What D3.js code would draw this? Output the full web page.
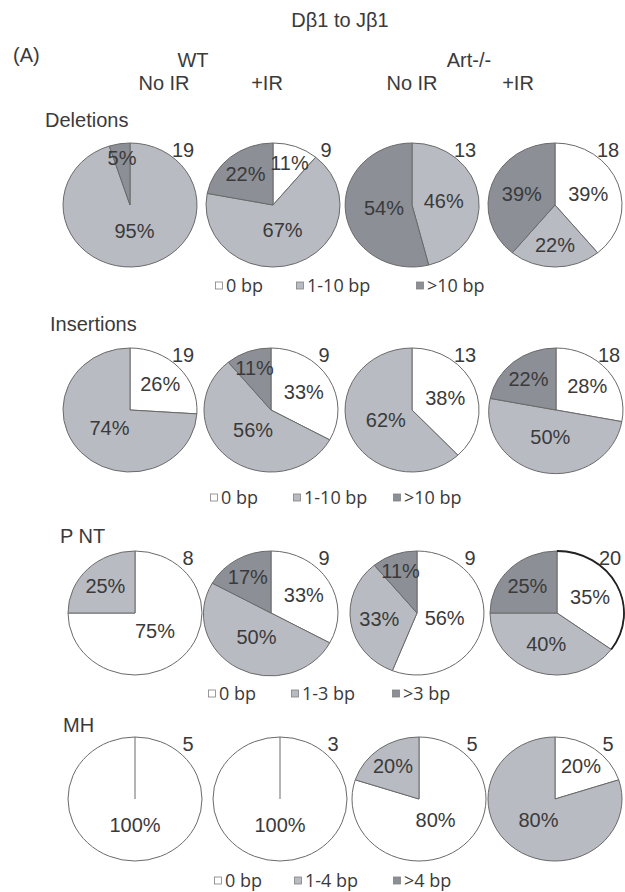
<!DOCTYPE html>
<html><head><meta charset="utf-8">
<script src="https://cdn.jsdelivr.net/npm/d3@7"></script>
<style>
html,body{margin:0;padding:0;background:#fff;}
text{font-family:"Liberation Sans",Arial,sans-serif;fill:#3a3a3a;}
.leg{font-family:"Open Sans",sans-serif;}
</style></head>
<body>
<script>
// ---- data ----
const title = "Dβ1 to Jβ1";
const panelLabel = "(A)";
const genotypes = ["WT", "Art-/-"];
const treatments = ["No IR", "+IR", "No IR", "+IR"];
const rowNames = ["Deletions", "Insertions", "P NT", "MH"];

const deletionsPct  = [[0, 95, 5], [11, 67, 22], [0, 46, 54], [39, 22, 39]];
const insertionsPct = [[26, 74, 0], [33, 56, 11], [38, 62, 0], [28, 50, 22]];
const pntPct        = [[75, 25, 0], [33, 50, 17], [56, 33, 11], [35, 40, 25]];
const mhPct         = [[100, 0, 0], [100, 0, 0], [80, 20, 0], [20, 80, 0]];

const deletionsN  = [19, 9, 13, 18];
const insertionsN = [19, 9, 13, 18];
const pntN        = [8, 9, 9, 20];
const mhN         = [5, 3, 5, 5];

const deletionsLegend  = ["0 bp", "1-10 bp", ">10 bp"];
const insertionsLegend = ["0 bp", "1-10 bp", ">10 bp"];
const pntLegend        = ["0 bp", "1-3 bp", ">3 bp"];
const mhLegend         = ["0 bp", "1-4 bp", ">4 bp"];

const rowsPct = [deletionsPct, insertionsPct, pntPct, mhPct];
const rowsN = [deletionsN, insertionsN, pntN, mhN];
const rowsLegend = [deletionsLegend, insertionsLegend, pntLegend, mhLegend];

// ---- layout & style ----
const W = 625, H = 892;
const colors = ["#ffffff", "#b8bbc2", "#8c8f96"];
const strokeCol = "#6a6a6a";
const rx = 67, ry = 62;
const rowCY = [205, 410, 613, 799];
const rowCX = [[130, 273, 412, 555], [130, 271, 412, 556], [135, 271, 417, 557], [135, 280, 419, 555]];
const rowLabelPos = [[45, 127], [50, 331], [60, 543], [63, 732]];
const legendY = [292, 504, 700, 887];
const legendX = [[219, 300, 420], [214, 297, 397], [212, 295, 396], [218, 298, 397]];

const svg = d3.select("body").append("svg").attr("width", W).attr("height", H);

// header
svg.append("text").attr("x", 340).attr("y", 27).attr("text-anchor", "middle").attr("font-size", 20).text(title);
svg.append("text").attr("x", 13).attr("y", 62).attr("font-size", 20).text(panelLabel);
svg.selectAll(".geno").data(genotypes).join("text")
  .attr("x", (d, i) => [193, 469][i]).attr("y", 67).attr("text-anchor", "middle").attr("font-size", 20).text(d => d);
svg.selectAll(".treat").data(treatments).join("text")
  .attr("x", (d, i) => [164, 267, 412, 518][i]).attr("y", 90).attr("text-anchor", "middle").attr("font-size", 20).text(d => d);

const pie = d3.pie().sort(null).value(d => d);
const arc = d3.arc().innerRadius(0).outerRadius(1);

rowsPct.forEach((rowData, r) => {
  svg.append("text").attr("x", rowLabelPos[r][0]).attr("y", rowLabelPos[r][1]).attr("font-size", 20).text(rowNames[r]);
  rowData.forEach((vals, c) => {
    const cx = rowCX[r][c], cy = rowCY[r];
    const total = d3.sum(vals);
    const arcs = pie(vals);
    const g = svg.append("g").attr("transform", `translate(${cx},${cy})`);
    const gs = g.append("g").attr("transform", `scale(${rx},${ry})`);
    arcs.forEach((a, k) => {
      if (a.value <= 0) return;
      gs.append("path").attr("d", arc(a)).attr("fill", colors[k])
        .attr("stroke", strokeCol).attr("stroke-width", 1).attr("vector-effect", "non-scaling-stroke");
      if (a.value === total) {
        g.append("line").attr("x1", 0).attr("y1", 0).attr("x2", 0).attr("y2", -ry)
          .attr("stroke", strokeCol).attr("stroke-width", 1);
      }
    });
    if (r === 2 && c === 3) {
      const a = arcs[0];
      const outer = d3.arc().innerRadius(1).outerRadius(1);
      gs.append("path").attr("d", outer(a)).attr("fill", "none")
        .attr("stroke", "#222").attr("stroke-width", 1.8).attr("vector-effect", "non-scaling-stroke");
    }
    arcs.forEach((a, k) => {
      if (a.value <= 0) return;
      const frac = a.value / total;
      const mid = (a.startAngle + a.endAngle) / 2;
      const kf = Math.max(0.42, 0.8 - 0.7 * frac);
      g.append("text").attr("x", rx * kf * Math.sin(mid)).attr("y", -ry * kf * Math.cos(mid))
        .attr("text-anchor", "middle").attr("dominant-baseline", "central").attr("font-size", 20)
        .text(a.value + "%");
    });
    g.append("text").attr("x", 53).attr("y", -55).attr("text-anchor", "middle")
      .attr("dominant-baseline", "central").attr("font-size", 20).text(rowsN[r][c]);
  });
  const lg = svg.append("g");
  rowsLegend[r].forEach((lab, k) => {
    const x = legendX[r][k], y = legendY[r];
    lg.append("rect").attr("x", x - 3.5).attr("y", y - 10).attr("width", 7).attr("height", 7)
      .attr("fill", k === 0 ? "#fff" : colors[k]).attr("stroke", "#808080").attr("stroke-width", 0.8);
    lg.append("text").attr("class", "leg").attr("x", x + 7).attr("y", y).attr("font-size", 18).text(lab);
  });
});
</script>
</body></html>
